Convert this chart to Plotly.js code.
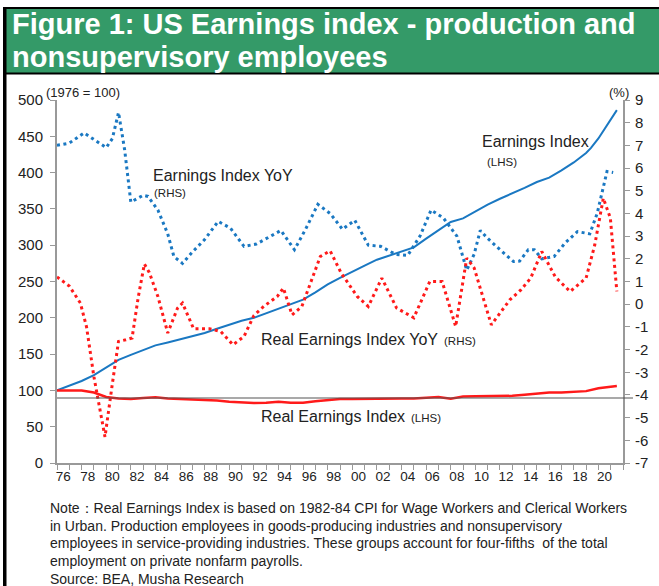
<!DOCTYPE html>
<html>
<head>
<meta charset="utf-8">
<script src="https://cdn.plot.ly/plotly-3.0.1.min.js"></script>
<style>
  html, body { margin: 0; padding: 0; background: #fff; }
  #chart { width: 659px; height: 586px; }
</style>
</head>
<body>
<div id="chart"></div>
<script>
// ---------------- DATA ----------------
// Earnings Index (LHS, 1976 = 100)
const eiYears  = [1976,1977,1978,1979,1980,1981,1982,1983,1984,1985,1986,1987,1988,1989,1990,1991,1992,1993,1994,1995,1996,1997,1998,1999,2000,2001,2002,2003,2004,2005,2006,2007,2008,2009,2010,2011,2012,2013,2014,2015,2016,2017,2018,2019,2019.4,2020,2021,2021.5];
const eiValues = [100,106,113,121,132,142,149,156,162,166,170,174,179,185,191,196,200,206,212,218,225,235,246,255,264,272,280,286,291,297,309,321,332,337,347,356,364,371,379,387,393,403,414,427,434,447,473,486];

// Real Earnings Index (LHS)
const reiYears  = [1976,1977,1978,1979,1980,1981,1982,1983,1984,1985,1986,1987,1988,1989,1990,1991,1992,1993,1994,1995,1996,1997,1998,1999,2000,2001,2002,2003,2004,2005,2006,2007,2008,2009,2010,2011,2012,2013,2014,2015,2016,2017,2018,2019,2020,2021,2021.5];
const reiValues = [100,100,100,97,91,89,88,89.5,90.5,89,88.5,88,87,86,84.5,83,82.5,83,84.5,83,83,85,87,88,88,88.5,89,89,89,89,89.5,91,88.5,91.5,92,92,92,92.5,94,95.5,97,97,97.5,99,103,105,106];

// Earnings Index YoY (RHS, %)
const eiYoyYears  = [1976,1977,1978.2,1979.2,1980,1980.5,1981,1981.5,1982,1983,1983.4,1984.2,1985,1985.5,1986.2,1987,1988,1989.1,1990.1,1991.2,1992.2,1993.2,1994.2,1995.3,1996.2,1997.2,1998.2,1999.2,2000.2,2001.3,2002.3,2003.5,2004.5,2005.5,2006.4,2007.4,2008.5,2009.3,2009.9,2010.4,2011,2011.8,2013.1,2013.6,2014.3,2014.8,2015.4,2016.4,2017.3,2018.3,2019.3,2019.9,2020.7,2021.2];
const eiYoyValues = [7.0,7.1,7.55,7.2,6.9,7.3,8.45,6.8,4.5,4.8,4.75,4.15,3.1,2.1,1.8,2.3,2.85,3.65,3.35,2.55,2.65,2.95,3.25,2.4,3.3,4.4,4.0,3.3,3.7,2.6,2.55,2.2,2.15,3.0,4.15,3.8,3.0,1.5,2.2,3.25,2.9,2.5,1.88,1.9,2.4,2.4,2.0,2.1,2.7,3.2,3.1,4.0,5.85,5.8];

// Real Earnings Index YoY (RHS, %)
const reiYoyYears  = [1976,1977,1977.9,1978.4,1979,1979.9,1980.5,1981,1981.6,1982.1,1982.6,1983.1,1983.5,1984.2,1985,1985.8,1986.2,1987.1,1988.4,1989.3,1990.3,1991.2,1992,1992.8,1993.9,1994.4,1995.1,1995.9,1996.6,1997.4,1998.2,1999.1,2000.4,2001.3,2002.4,2003.6,2005,2006.3,2007.3,2008.4,2009.3,2009.9,2011.3,2012.8,2013.7,2014.5,2015.4,2016.5,2017.7,2019,2019.7,2020.4,2020.97,2021.5];
const reiYoyValues = [1.2,0.8,0.05,-1.0,-3.2,-5.85,-3.5,-1.64,-1.57,-1.49,0.3,1.77,1.4,0.34,-1.27,-0.17,0.05,-1.08,-1.08,-1.2,-1.79,-1.42,-0.5,-0.1,0.34,0.71,-0.47,-0.1,0.93,2.1,2.35,1.37,0.34,-0.1,1.15,-0.17,-0.6,1.0,1.0,-0.98,2.03,1.6,-0.91,0.19,0.63,1.15,2.32,1.2,0.56,1.15,2.6,4.67,3.8,0.56];

// Tick labels
const labelYears = [1976,1978,1980,1982,1984,1986,1988,1990,1992,1994,1996,1998,2000,2002,2004,2006,2008,2010,2012,2014,2016,2018,2020];
const xTickText  = ['76','78','80','82','84','86','88','90','92','94','96','98','00','02','04','06','08','10','12','14','16','18','20'];
const rightTickVals = [-7,-6,-5,-4,-3,-2,-1,0,1,2,3,4,5,6,7,8,9];
const rightTickText = ['-7','-6','-5','-4','-3','-2','-1','0','1','2','3','4','5','6','7','8','9'];

// ---------------- LAYOUT HELPERS ----------------
const W = 659, H = 586;
const M = { l: 57, r: 36, t: 100, b: 123 };
const PW = W - M.l - M.r, PH = H - M.t - M.b;
const px = x => (x - M.l) / PW;           // pixel x -> paper
const py = y => (H - M.b - y) / PH;       // pixel y -> paper

const FONT = 'Liberation Sans, Arial, sans-serif';
const BLUE = '#1a78c2';
const RED = '#ff1a1a';

const traces = [
  { x: eiYears, y: eiValues, type: 'scatter', mode: 'lines', yaxis: 'y',
    line: { color: BLUE, width: 2 }, hoverinfo: 'skip' },
  { x: reiYears, y: reiValues, type: 'scatter', mode: 'lines', yaxis: 'y',
    line: { color: RED, width: 2.5 }, hoverinfo: 'skip' },
  { x: eiYoyYears, y: eiYoyValues, type: 'scatter', mode: 'lines', yaxis: 'y2',
    line: { color: BLUE, width: 3, dash: '3px,3.5px' }, hoverinfo: 'skip' },
  { x: reiYoyYears, y: reiYoyValues, type: 'scatter', mode: 'lines', yaxis: 'y2',
    line: { color: RED, width: 3, dash: '3px,3.5px' }, hoverinfo: 'skip' }
];

function ann(text, x, y, size, opts) {
  return Object.assign({
    text: text, xref: 'paper', yref: 'paper', x: px(x), y: py(y),
    xanchor: 'left', yanchor: 'middle', showarrow: false,
    font: { family: FONT, size: size, color: '#222' }
  }, opts || {});
}

const annotations = [
  ann('Figure 1: US Earnings index - production and', 10, 24, 29,
      { font: { family: FONT, size: 29, color: '#ffffff', weight: 700 } }),
  ann('nonsupervisory employees', 10, 57, 29,
      { font: { family: FONT, size: 29, color: '#ffffff', weight: 700 } }),
  ann('(1976 = 100)', 44, 93, 13),
  ann('(%)', 607, 93, 13),
  ann('Earnings Index YoY', 151, 175, 16),
  ann('(RHS)', 152, 193, 11.5),
  ann('Earnings Index', 480, 142, 16),
  ann('(LHS)', 485, 162, 11.5),
  ann('Real Earnings Index YoY', 259, 339, 16),
  ann('(RHS)', 442, 341, 11.5),
  ann('Real Earnings Index', 259, 416, 16),
  ann('(LHS)', 409, 418, 11.5),
  ann('Note\uFF1AReal Earnings Index is based on 1982-84 CPI for Wage Workers and Clerical Workers', 48, 508, 14),
  ann('in Urban. Production employees in goods-producing industries and nonsupervisory', 48, 526, 14),
  ann('employees in service-providing industries. These groups account for four-fifths  of the total', 48, 543, 14),
  ann('employment on private nonfarm payrolls.', 48, 561, 14),
  ann('Source: BEA, Musha Research', 48, 579, 14)
];

const shapes = [
  // green title banner
  { type: 'rect', xref: 'paper', yref: 'paper', x0: px(6), x1: px(662), y0: py(73), y1: py(8),
    fillcolor: '#349a68', line: { width: 0 }, layer: 'below' },
  // black frame: top, left, banner bottom
  { type: 'rect', xref: 'paper', yref: 'paper', x0: px(3), x1: px(662), y0: py(9), y1: py(7),
    fillcolor: '#000', line: { width: 0 } },
  { type: 'rect', xref: 'paper', yref: 'paper', x0: px(3), x1: px(6.5), y0: py(590), y1: py(7),
    fillcolor: '#000', line: { width: 0 } },
  { type: 'rect', xref: 'paper', yref: 'paper', x0: px(6), x1: px(662), y0: py(74.5), y1: py(72.5),
    fillcolor: '#000', line: { width: 0 } },
  // horizontal reference line
  { type: 'line', xref: 'paper', yref: 'paper', x0: 0, x1: px(633), y0: py(398), y1: py(398),
    line: { color: '#555', width: 1.2 } }
];

const layout = {
  width: W, height: H,
  margin: M,
  paper_bgcolor: '#fff', plot_bgcolor: '#fff',
  showlegend: false,
  font: { family: FONT, size: 14, color: '#222' },
  xaxis: {
    range: [1976, 2022], type: 'linear', fixedrange: true,
    tickmode: 'array', tickvals: labelYears.map(y => y + 0.5), ticktext: xTickText,
    ticks: '', showgrid: false, zeroline: false,
    showline: true, linecolor: '#999', linewidth: 2,
    tickfont: { family: FONT, size: 13.5, color: '#222' },
    minor: { tickmode: 'linear', tick0: 1976, dtick: 1, ticks: 'outside', ticklen: 5,
             tickcolor: '#999', tickwidth: 1, showgrid: false }
  },
  yaxis: {
    range: [0, 500], dtick: 50, tick0: 0, fixedrange: true,
    ticks: 'outside', ticklen: 5, tickcolor: '#999', tickwidth: 1,
    showgrid: false, zeroline: false,
    showline: true, linecolor: '#999', linewidth: 2,
    tickfont: { family: FONT, size: 15, color: '#222' },
    ticklabelstandoff: 4
  },
  yaxis2: {
    range: [-7, 9], overlaying: 'y', side: 'right', fixedrange: true,
    tickmode: 'array', tickvals: rightTickVals, ticktext: rightTickText,
    ticks: 'outside', ticklen: 5, tickcolor: '#999', tickwidth: 1,
    showgrid: false, zeroline: false,
    showline: true, linecolor: '#999', linewidth: 2,
    tickfont: { family: FONT, size: 15, color: '#222' },
    ticklabelstandoff: 2
  },
  annotations: annotations,
  shapes: shapes
};

Plotly.newPlot('chart', traces, layout, { staticPlot: true, displayModeBar: false });
</script>
</body>
</html>
